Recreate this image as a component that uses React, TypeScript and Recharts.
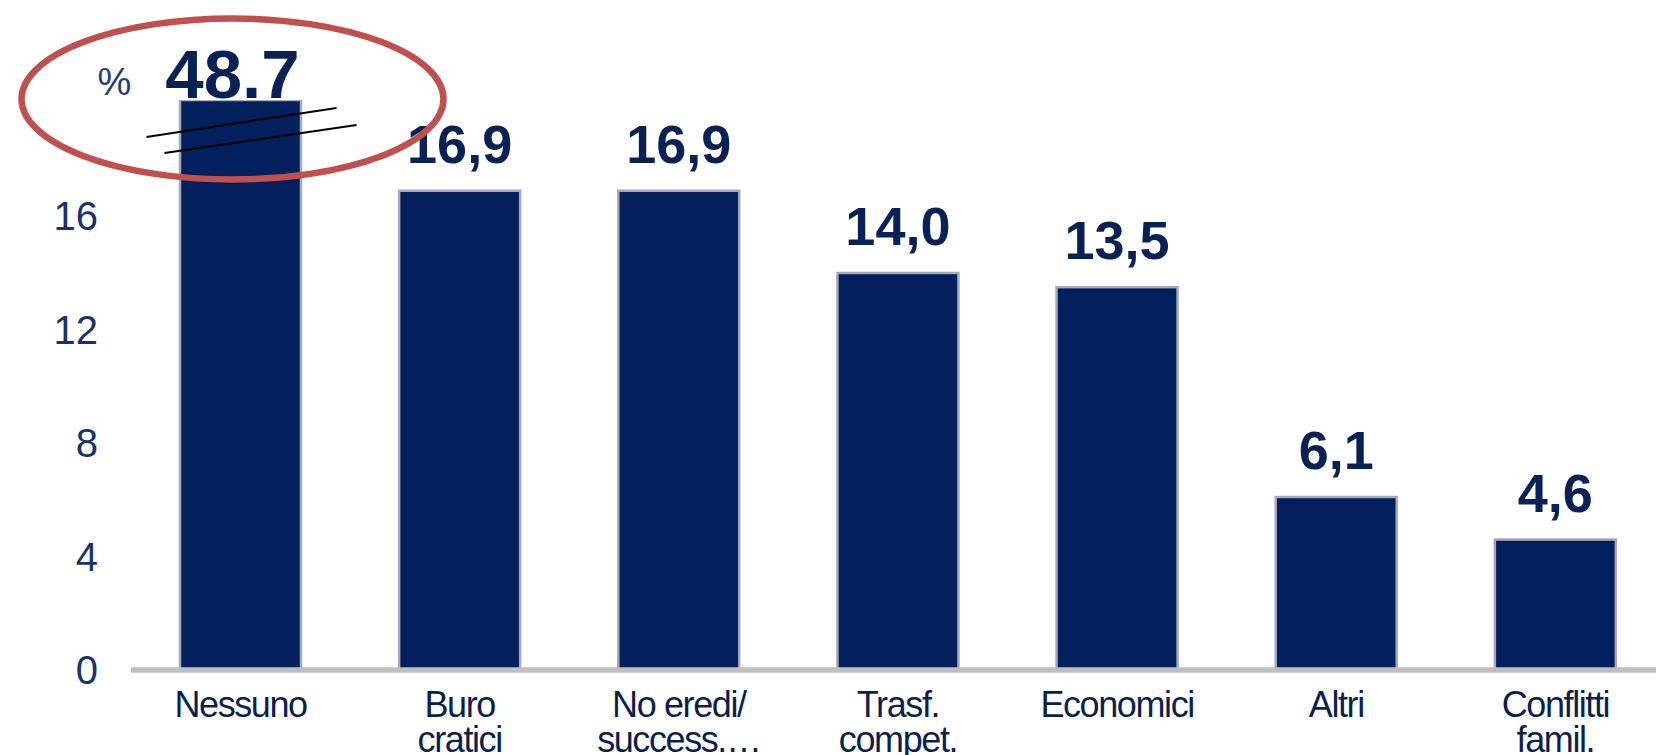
import { BarChart, Bar, XAxis, YAxis, LabelList } from 'recharts';

const CATEGORIES = [
  'Nessuno',
  'Buro\ncratici',
  'No eredi/\nsuccess.…',
  'Trasf.\ncompet.',
  'Economici',
  'Altri',
  'Conflitti\nfamil.',
];
const VALUES = [48.7, 16.9, 16.9, 14.0, 13.5, 6.1, 4.6];
const Y_TICKS = [0, 4, 8, 12, 16];
const Y_MAX = 20.1;
const UNIT = '%';

const data = CATEGORIES.map((name, i) => ({ name, value: VALUES[i] }));

const FONT = '"Liberation Sans", Arial, sans-serif';
const BAR_FILL = '#021F5E';
const BAR_STROKE = '#A6A9BB';
const TEXT = '#0A2155';
const HIGHLIGHT = '#C0504D';

// top of the visible part of a bar that runs past the axis maximum
function clampedTop(y: number, height: number, value: number) {
  const bottom = y + height;
  return value > Y_MAX ? bottom - height * (Y_MAX / value) : y;
}

function BarShape(props: any) {
  const { x, y, width, height, payload } = props;
  const v = payload.value;
  const top = clampedTop(y, height, v);
  const cx = x + width / 2;
  return (
    <g>
      <rect
        x={x}
        y={top}
        width={width}
        height={y + height - top}
        fill={BAR_FILL}
        stroke={BAR_STROKE}
        strokeWidth={2.5}
      />
      {v > Y_MAX && (
        <g stroke="#000" strokeWidth={2}>
          <line x1={cx - 94} y1={top + 37} x2={cx + 96} y2={top + 8} />
          <line x1={cx - 76} y1={top + 53} x2={cx + 116} y2={top + 25} />
        </g>
      )}
    </g>
  );
}

function ValueLabel(props: any) {
  const { x, y, width, height, index } = props;
  const v = VALUES[index];
  const cx = x + width / 2;
  if (v > Y_MAX) {
    const top = clampedTop(y, height, v);
    return (
      <text x={cx - 8} y={top - 2} textAnchor="middle" fontFamily={FONT} fontSize={69} fontWeight="bold" fill={TEXT}>
        {v.toFixed(1)}
      </text>
    );
  }
  return (
    <text x={cx} y={y - 28} textAnchor="middle" fontFamily={FONT} fontSize={54} fontWeight="bold" fill={TEXT}>
      {v.toFixed(1).replace('.', ',')}
    </text>
  );
}

// red ring + unit marker around the broken bar
function Highlight(props: any) {
  const { x, y, width, height, index } = props;
  const v = VALUES[index];
  if (v <= Y_MAX) return null;
  const top = clampedTop(y, height, v);
  const cx = x + width / 2;
  return (
    <g>
      <text x={cx - 126} y={top - 5} textAnchor="middle" fontFamily={FONT} fontSize={38} fill="#1F3D7A">
        {UNIT}
      </text>
      <ellipse cx={cx - 8} cy={top - 1} rx={211} ry={80.5} fill="none" stroke={HIGHLIGHT} strokeWidth={6.5} />
    </g>
  );
}

function CategoryTick(props: any) {
  const { x, y, payload } = props;
  const lines = String(payload.value).split('\n');
  return (
    <g>
      {lines.map((line, i) => (
        <text
          key={i}
          x={x}
          y={y + 47 + i * 35}
          textAnchor="middle"
          fontFamily={FONT}
          fontSize={36}
          letterSpacing={-1.4}
          fill="#0B1F4F"
        >
          {line}
        </text>
      ))}
    </g>
  );
}

export default function App() {
  return (
    <div
      style={{
        position: 'absolute',
        left: 0,
        top: 0,
        width: 1656,
        height: 755,
        overflow: 'hidden',
        background: '#fff',
      }}
    >
      <BarChart width={1680} height={755} data={data} margin={{ top: 100, right: 15, bottom: 0, left: 0 }} barSize={121}>
        <XAxis
          dataKey="name"
          height={85}
          interval={0}
          tickLine={false}
          tickSize={0}
          tickMargin={0}
          axisLine={{ stroke: '#BFBFBF', strokeWidth: 5.5 }}
          tick={<CategoryTick />}
        />
        <YAxis
          width={131}
          domain={[0, Y_MAX]}
          allowDataOverflow
          ticks={Y_TICKS}
          axisLine={false}
          tickLine={false}
          tickSize={0}
          tickMargin={33}
          tick={{ fontSize: 40, fill: '#17336B', fontFamily: FONT }}
        />
        <Bar dataKey="value" shape={<BarShape />} isAnimationActive={false}>
          <LabelList dataKey="value" content={<ValueLabel />} />
          <LabelList dataKey="value" content={<Highlight />} />
        </Bar>
      </BarChart>
    </div>
  );
}
